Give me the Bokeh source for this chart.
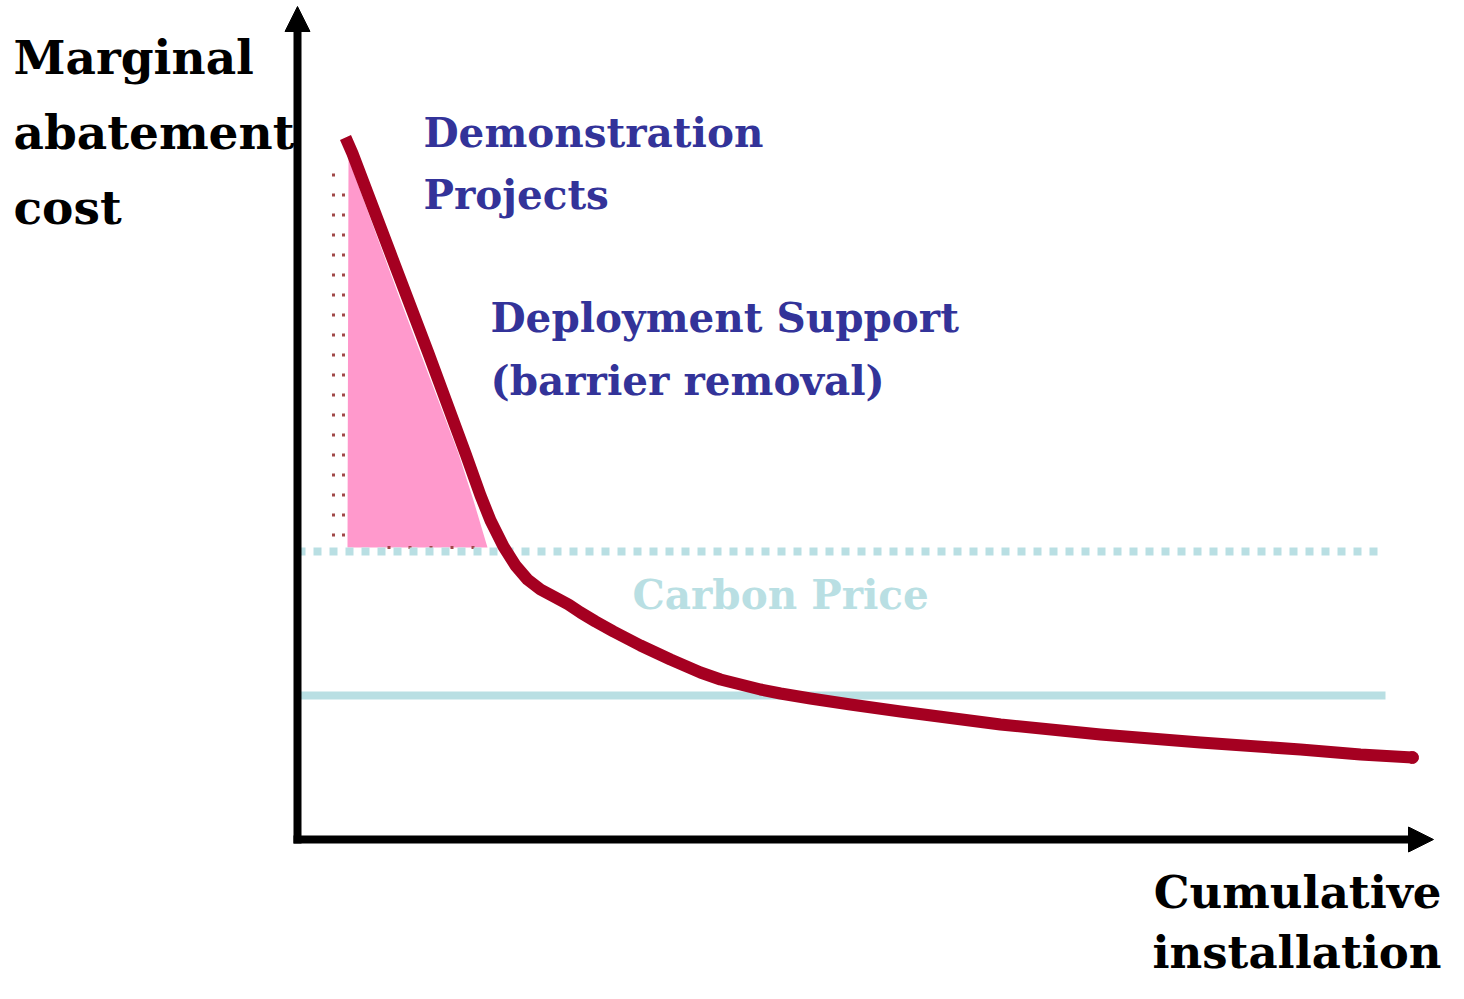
from bokeh.plotting import figure
from bokeh.models import Range1d, Arrow, NormalHead, ColumnDataSource
from bokeh.core.properties import value
from bokeh.embed import file_html
from bokeh.resources import INLINE

# ---- data (abstract units: x = cumulative installation, y = marginal abatement cost) ----
curve_x = [0.48, 0.55, 0.93, 1.31, 1.68, 1.83, 1.93, 2.06, 2.18, 2.30, 2.43, 2.58, 2.71,
           2.83, 2.98, 3.16, 3.43, 3.73, 4.03, 4.23, 4.43, 4.63, 4.83, 5.13, 5.53, 6.03,
           7.03, 8.03, 9.03, 10.03, 10.63, 11.15]
curve_y = [7.02, 6.86, 5.86, 4.86, 3.86, 3.44, 3.19, 2.93, 2.74, 2.60, 2.50, 2.42, 2.35,
           2.27, 2.18, 2.08, 1.94, 1.80, 1.67, 1.60, 1.55, 1.50, 1.46, 1.41, 1.35, 1.28,
           1.15, 1.05, 0.97, 0.90, 0.85, 0.82]

support_x = [0.50, 0.51, 1.03, 1.61, 1.76, 1.90]
support_y = [2.92, 6.81, 5.39, 3.86, 3.39, 2.92]

price_high = 2.88
price_high_end = 10.80
price_low = 1.44
price_low_end = 10.88

dots1_x = [0.36, 0.36]
dots1_y = [6.66, 2.92]
dots2_x = [0.46, 0.46]
dots2_y = [6.56, 2.92]
dots3_x = [0.90, 1.78]
dots3_y = [2.92, 2.92]

axis_x_end = 11.36
axis_y_end = 8.33

ylabel_lines = ["Marginal", "abatement", "cost"]
ylabel_y = [7.82, 7.07, 6.32]
ylabel_x = -2.84
xlabel_lines = ["Cumulative", "installation"]
xlabel_y = [-0.53, -1.13]
xlabel_x = 11.44
demo_lines = ["Demonstration", "Projects"]
demo_y = [7.07, 6.45]
demo_x = 1.26
deploy_lines = ["Deployment Support", "(barrier removal)"]
deploy_y = [5.22, 4.59]
deploy_x = 1.93
carbon_label = "Carbon Price"
carbon_x = 3.35
carbon_y = 2.45

RED = "#A50021"
PINK = "#FF99CC"
LBLUE = "#B9DFE3"
DBLUE = "#333399"
DOT = "#A04848"
FONT = value("DejaVu Serif")

p = figure(width=1448, height=983, output_backend="svg", toolbar_location=None,
           x_range=Range1d(-2.97, 11.51), y_range=Range1d(-1.44, 8.39),
           x_axis_location=None, y_axis_location=None, min_border=0,
           outline_line_color=None, background_fill_color="white",
           border_fill_color="white")
p.grid.visible = False

# pink support triangle
p.patch(support_x, support_y, fill_color=PINK, line_color=None)

# dotted columns
p.line(dots1_x, dots1_y, line_color=DOT, line_width=3, line_dash="3 17")
p.line(dots2_x, dots2_y, line_color=DOT, line_width=3, line_dash="3 17", line_dash_offset=10)
p.line(dots3_x, dots3_y, line_color=DOT, line_width=3, line_dash="3 18")

# carbon price lines
p.line([0, price_high_end], [price_high, price_high], line_color=LBLUE, line_width=8,
       line_dash="8 8")
p.line([0, price_low_end], [price_low, price_low], line_color=LBLUE, line_width=8)

# marginal abatement cost curve
p.line(curve_x, curve_y, line_color=RED, line_width=12, line_join="round")
p.scatter([curve_x[-1]], [curve_y[-1]], size=12, color=RED)

# axes with arrows
p.add_layout(Arrow(end=NormalHead(size=25, fill_color="black", line_color="black", line_width=1),
                   x_start=0, y_start=-0.04, x_end=0, y_end=axis_y_end,
                   line_color="black", line_width=8))
p.add_layout(Arrow(end=NormalHead(size=25, fill_color="black", line_color="black", line_width=1),
                   x_start=-0.04, y_start=0, x_end=axis_x_end, y_end=0,
                   line_color="black", line_width=8))

# texts
def txt(xs, ys, lines, color, size, align="left"):
    src = ColumnDataSource(dict(x=xs, y=ys, t=lines))
    p.text(x="x", y="y", text="t", source=src, text_color=color, text_font=FONT,
           text_font_style="bold", text_font_size=size, text_baseline="alphabetic",
           text_align=align)

txt([ylabel_x] * 3, ylabel_y, ylabel_lines, "black", "47px")
txt([xlabel_x] * 2, xlabel_y, xlabel_lines, "black", "45px", align="right")
txt([demo_x] * 2, demo_y, demo_lines, DBLUE, "40.5px")
txt([deploy_x] * 2, deploy_y, deploy_lines, DBLUE, "40.5px")
txt([carbon_x], [carbon_y], [carbon_label], LBLUE, "40.5px")

open("out.html", "w").write(file_html(p, INLINE))
